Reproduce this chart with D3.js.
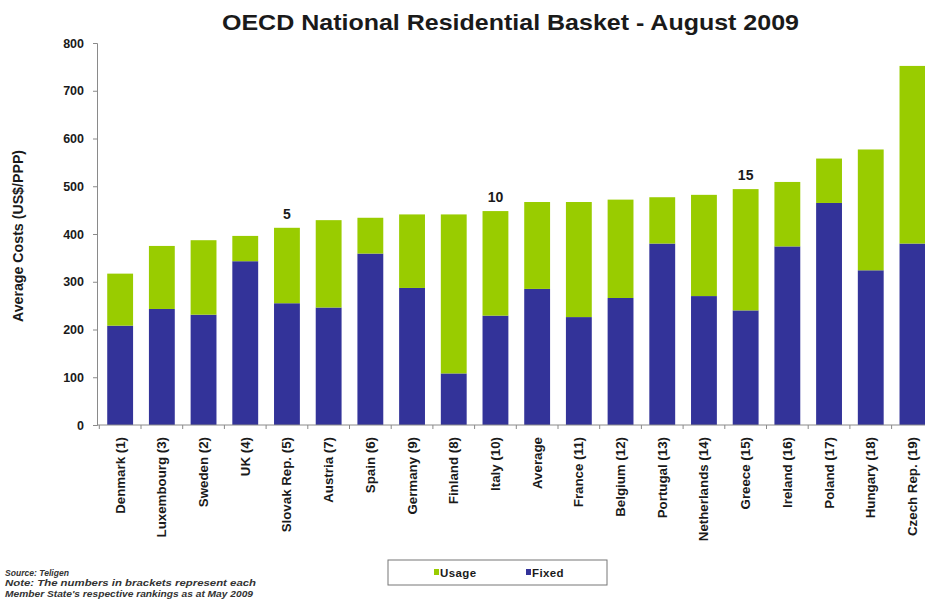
<!DOCTYPE html>
<html>
<head>
<meta charset="utf-8">
<script src="https://cdn.jsdelivr.net/npm/d3@7"></script>
<style>
  html, body { margin: 0; padding: 0; background: #fff; overflow: hidden; }
  svg { display: block; font-family: "Liberation Sans", Arial, sans-serif; }
</style>
</head>
<body>
<svg id="chart" width="925" height="602"></svg>
<script>
// Countries ordered by total basket cost (rank in brackets)
const categories = [
  "Denmark (1)", "Luxembourg (3)", "Sweden (2)", "UK (4)", "Slovak Rep. (5)",
  "Austria (7)", "Spain (6)", "Germany (9)", "Finland (8)", "Italy (10)",
  "Average", "France (11)", "Belgium (12)", "Portugal (13)", "Netherlands (14)",
  "Greece (15)", "Ireland (16)", "Poland (17)", "Hungary (18)", "Czech Rep. (19)"
];
// Fixed charges, US$/PPP
const fixedValues = [208, 243, 231, 343, 255, 246, 359, 287, 108, 229,
                     285, 226, 266, 380, 270, 240, 374, 465, 324, 380];
// Usage charges, US$/PPP
const usageValues = [109, 132, 156, 53, 158, 183, 75, 154, 333, 219,
                     182, 241, 206, 97, 212, 254, 135, 93, 253, 372];
const yTicks = [0, 100, 200, 300, 400, 500, 600, 700, 800];
// Rank markers shown above selected bars
const rankMarks = [
  { category: "Slovak Rep. (5)", label: "5" },
  { category: "Italy (10)", label: "10" },
  { category: "Greece (15)", label: "15" }
];
const seriesNames = ["Usage", "Fixed"];
const colors = { Usage: "#99cc00", Fixed: "#333399" };

const rows = categories.map((c, i) => ({ category: c, Fixed: fixedValues[i], Usage: usageValues[i] }));
const stacked = d3.stack().keys(["Fixed", "Usage"])(rows);

const svg = d3.select("#chart");
const x = d3.scaleBand().domain(categories).range([99.3, 933.3]).padding(0);
const y = d3.scaleLinear().domain([0, 800]).range([425, 43]);
const barW = x.bandwidth() * 0.62;
const axisColor = "#8a8a8a";
const textColor = "#1a1a1a";

// Title
svg.append("text")
  .attr("x", 222).attr("y", 30)
  .attr("font-size", 21.5).attr("font-weight", "bold")
  .attr("fill", textColor)
  .attr("textLength", 577).attr("lengthAdjust", "spacingAndGlyphs")
  .text("OECD National Residential Basket - August 2009");

// Stacked bars
svg.append("g").selectAll("g")
  .data(stacked).join("g")
  .attr("fill", d => colors[d.key])
  .selectAll("rect")
  .data(d => d).join("rect")
  .attr("x", d => x(d.data.category) + (x.bandwidth() - barW) / 2)
  .attr("width", barW)
  .attr("y", d => y(d[1]))
  .attr("height", d => y(d[0]) - y(d[1]));

// Y axis
const yAxis = d3.axisLeft(y).tickValues(yTicks).tickSize(4).tickPadding(9);
const gy = svg.append("g").attr("transform", "translate(97,0)").call(yAxis);
gy.select(".domain").attr("stroke", axisColor);
gy.selectAll(".tick line").attr("stroke", axisColor);
gy.selectAll(".tick text")
  .attr("font-size", 12.5).attr("font-weight", "bold")
  .attr("fill", textColor).attr("font-family", "Liberation Sans, Arial, sans-serif");

// X axis baseline with ticks on band boundaries
const gx = svg.append("g");
gx.append("line")
  .attr("x1", 97).attr("x2", 925)
  .attr("y1", y(0)).attr("y2", y(0))
  .attr("stroke", axisColor);
gx.selectAll("line.tick")
  .data(categories).join("line")
  .attr("class", "tick")
  .attr("x1", d => x(d)).attr("x2", d => x(d))
  .attr("y1", y(0)).attr("y2", y(0) + 4)
  .attr("stroke", axisColor);
gx.selectAll("text")
  .data(categories).join("text")
  .attr("transform", d => `translate(${x(d) + x.bandwidth() / 2 + 4.5},${y(0) + 12}) rotate(-90)`)
  .attr("text-anchor", "end")
  .attr("font-size", 13.3).attr("font-weight", "bold")
  .attr("fill", textColor)
  .text(d => d);

// Y axis title
svg.append("text")
  .attr("transform", "translate(23,236) rotate(-90)")
  .attr("text-anchor", "middle")
  .attr("font-size", 14.2).attr("font-weight", "bold")
  .attr("fill", textColor)
  .text("Average Costs (US$/PPP)");

// Rank markers
const totals = new Map(rows.map(r => [r.category, r.Fixed + r.Usage]));
svg.append("g").selectAll("text")
  .data(rankMarks).join("text")
  .attr("x", d => x(d.category) + x.bandwidth() / 2)
  .attr("y", d => y(totals.get(d.category)) - 9)
  .attr("text-anchor", "middle")
  .attr("font-size", 14).attr("font-weight", "bold")
  .attr("fill", textColor)
  .text(d => d.label);

// Legend
const legend = svg.append("g");
legend.append("rect")
  .attr("x", 388).attr("y", 560).attr("width", 219).attr("height", 25)
  .attr("fill", "#fff").attr("stroke", "#777").attr("stroke-width", 1);
const legendX = { Usage: 434, Fixed: 526 };
seriesNames.forEach(name => {
  legend.append("rect")
    .attr("x", legendX[name]).attr("y", 569)
    .attr("width", 5).attr("height", 6)
    .attr("fill", colors[name]);
  legend.append("text")
    .attr("x", legendX[name] + 6).attr("y", 577)
    .attr("font-size", 11.5).attr("font-weight", "bold")
    .attr("fill", textColor)
    .attr("letter-spacing", 0.4)
    .text(name);
});

// Source note
const notes = [
  { text: "Source:  Teligen", width: 64 },
  { text: "Note: The numbers in brackets  represent  each", width: 251 },
  { text: "Member State's  respective rankings  as at May 2009", width: 248 }
];
svg.append("g").selectAll("text")
  .data(notes).join("text")
  .attr("x", 5)
  .attr("y", (d, i) => 576 + i * 10.3)
  .attr("font-size", 9.5).attr("font-style", "italic").attr("font-weight", "bold")
  .attr("textLength", d => d.width).attr("lengthAdjust", "spacingAndGlyphs")
  .attr("fill", "#333")
  .text(d => d.text);
</script>
</body>
</html>
